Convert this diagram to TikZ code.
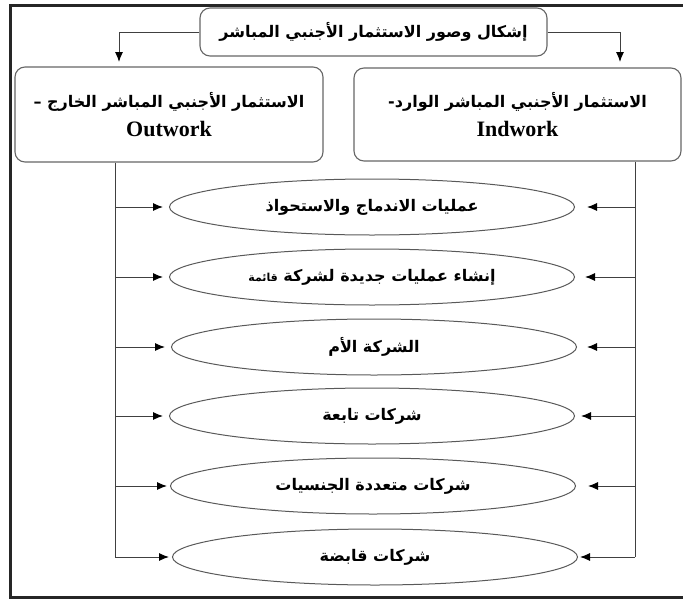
\documentclass[tikz,border=0pt]{standalone}
\usepackage{fontspec}
\TeXXeTstate=1
\setmainfont{Liberation Serif}
\newfontfamily\arabicfont[Script=Arabic]{DejaVu Sans}
\usetikzlibrary{arrows.meta,shapes.geometric}
\begin{document}
\begin{tikzpicture}[x=1pt,y=-1pt,
  rbox/.style={draw=black!60, line width=1.1pt, rounded corners=10pt, fill=white, inner sep=0pt},
  eid/.style={draw=black!65, line width=1pt, ellipse, minimum width=405pt, minimum height=56pt, inner sep=0pt},
  ar/.style={font=\arabicfont\bfseries\fontsize{16}{18}\selectfont},
  link/.style={draw=black!75, line width=1pt},
  tip/.style={link, -{Latex[length=10pt,width=8pt,color=black]}}]
\useasboundingbox (0,0) rectangle (683,600);
% frame
\draw[line width=3pt, black!85] (683,5) -- (10,5) -- (10,597) -- (683,597);

\node[rbox, ar, minimum width=347pt, minimum height=48pt] (fid0) at (373.5,32) {\beginR إشكال وصور الاستثمار الأجنبي المباشر\endR};
\node[rbox, minimum width=308pt, minimum height=95pt, align=center] (fid1) at (169,114.5)
  {{\arabicfont\bfseries\fontsize{16}{18}\selectfont\beginR الاستثمار الأجنبي المباشر الخارج –\endR}\\[9pt]
   {\bfseries\fontsize{22}{26}\selectfont Outwork}};
\node[rbox, minimum width=327pt, minimum height=93pt, align=center] (fid2) at (517.5,114.5)
  {{\arabicfont\bfseries\fontsize{16}{18}\selectfont\beginR الاستثمار الأجنبي المباشر الوارد-\endR}\\[9pt]
   {\bfseries\fontsize{22}{26}\selectfont Indwork}};

\node[eid, ar] (eid1) at (372,207) {\beginR عمليات الاندماج والاستحواذ\endR};
\node[eid, ar] (eid2) at (372,277) {\beginR إنشاء عمليات جديدة لشركة {\fontsize{11}{12}\selectfont قائمة}\endR};
\node[eid, ar] (eid3) at (374,347) {\beginR الشركة الأم\endR};
\node[eid, ar] (eid4) at (372,416) {\beginR شركات تابعة\endR};
\node[eid, ar] (eid5) at (373,486) {\beginR شركات متعددة الجنسيات\endR};
\node[eid, ar] (eid6) at (375,557) {\beginR شركات قابضة\endR};

\coordinate (lt) at (119,62);
\coordinate (rt) at (620,62);
\coordinate (lx) at (115,0);
\coordinate (rx) at (635,0);

\draw[tip] (fid0.west) -| (lt);
\draw[tip] (fid0.east) -| (rt);
\draw[link] (lx |- fid1.south) -- (lx |- eid6);
\draw[link] (rx |- fid2.south) -- (rx |- eid6);
\draw[tip, shorten >=6pt] (lx |- eid1) -- (eid1.west);
\draw[tip, shorten >=6pt] (lx |- eid2) -- (eid2.west);
\draw[tip, shorten >=6pt] (lx |- eid3) -- (eid3.west);
\draw[tip, shorten >=6pt] (lx |- eid4) -- (eid4.west);
\draw[tip, shorten >=3pt] (lx |- eid5) -- (eid5.west);
\draw[tip, shorten >=3pt] (lx |- eid6) -- (eid6.west);
\draw[tip, shorten >=12pt] (rx |- eid1) -- (eid1.east);
\draw[tip, shorten >=10pt] (rx |- eid2) -- (eid2.east);
\draw[tip, shorten >=10pt] (rx |- eid3) -- (eid3.east);
\draw[tip, shorten >=6pt] (rx |- eid4) -- (eid4.east);
\draw[tip, shorten >=12pt] (rx |- eid5) -- (eid5.east);
\draw[tip, shorten >=2pt] (rx |- eid6) -- (eid6.east);

\end{tikzpicture}
\end{document}
